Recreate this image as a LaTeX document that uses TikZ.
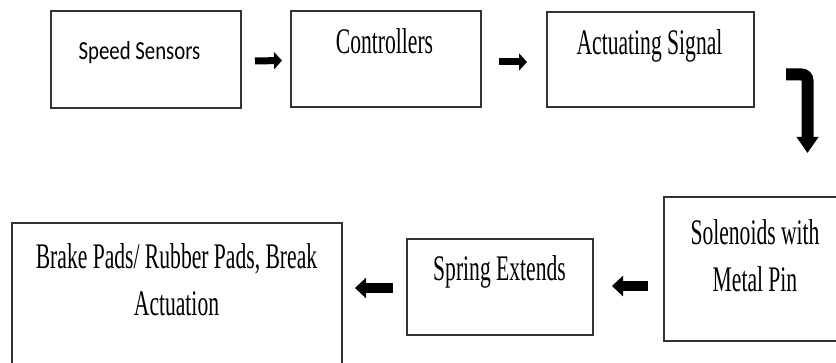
\documentclass[tikz,border=0pt]{standalone}
\usepackage{fontspec}
\setmainfont{Liberation Serif}[FakeStretch=0.6]
\newfontfamily\calfont{Carlito}[FakeStretch=0.8]
\usetikzlibrary{arrows.meta,calc}
\begin{document}
\begin{tikzpicture}[x=1pt,y=-1pt,
  box/.style={draw=black!80, line width=1.6pt, inner sep=0pt, outer sep=0pt, fill=none},
  txt/.style={inner sep=0pt, anchor=base, align=center, font=\fontsize{36}{47}\selectfont},
  blk/.style={line width=7pt, -{Triangle[length=8pt,width=17pt]}},
  blkb/.style={line width=9.5pt, -{Triangle[length=11pt,width=20pt]}},
  bent/.style={line width=12pt, rounded corners=6pt, -{Triangle[length=16pt,width=21pt]}}]
\useasboundingbox (0,0) rectangle (836,363);
% boxes
\node[box, minimum width=190pt, minimum height=97pt] (b1) at (146,59.5) {};
\node[box, minimum width=190pt, minimum height=96pt] (b2) at (386,59) {};
\node[box, minimum width=207pt, minimum height=95pt] (b3) at (650.5,59.5) {};
\node[box, minimum width=182pt, minimum height=144pt] (b4) at (755,269) {};
\node[box, minimum width=186pt, minimum height=96pt] (b5) at (500,287) {};
\node[box, minimum width=330pt, minimum height=152pt] (b6) at (177,299) {};
% texts
\node[txt, font=\calfont\fontsize{26}{30}\selectfont] (t1) at (139.5,60) {Speed Sensors};
\node[txt] (t2) at (384.5,54) {Controllers};
\node[txt] (t3) at (649.5,55) {Actuating Signal};
\node[txt] (t4) at (755,292) {Solenoids with\\Metal Pin};
\node[txt] (t5) at (499.5,281) {Spring Extends};
\node[txt] (t6) at (176.5,316) {Brake Pads/ Rubber Pads, Break\\Actuation};
% arrows
\draw[blk] ($(b1.east)+(14,1.5)$) -- ($(b2.west)+(-9,1.5)$);
\draw[blk] ($(b2.east)+(18,3)$) -- ($(b3.west)+(-20,2.5)$);
\coordinate (bs) at ($(b3.east)+(32,15)$);
\coordinate (be) at ($(b4.north)+(52.5,-44)$);
\draw[bent] (bs) -| (be);
\draw[blkb] ($(b4.west)+(-16,17)$) -- ($(b5.east)+(19,-1)$);
\draw[blkb] ($(b5.west)+(-14,1)$) -- ($(b6.east)+(13,-11)$);
\end{tikzpicture}
\end{document}
